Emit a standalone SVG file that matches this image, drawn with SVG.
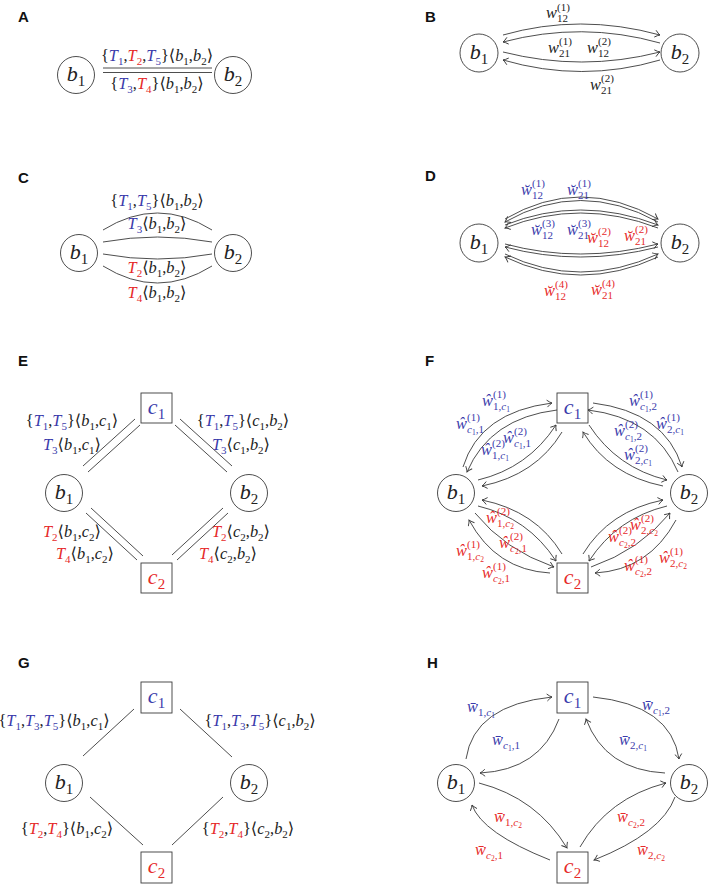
<svg xmlns="http://www.w3.org/2000/svg" width="709" height="884" viewBox="0 0 709 884">
<style>
.pl{font-family:"Liberation Sans",Arial,sans-serif;font-weight:bold;font-size:15px;fill:#111}
.m{font-family:"Liberation Serif","DejaVu Serif",serif;font-size:16.4px;fill:#222}
.it{font-style:italic}
.sc{font-size:11px}
.sb{font-size:11px;baseline-shift:-4px}
.ss{font-size:7.5px;baseline-shift:-2px}
.nd{font-size:22px}
.ns{font-size:15px;baseline-shift:-5px}
.bl{fill:#3b3bab}
.rd{fill:#e62a2a}
.ln{fill:none;stroke:#3a3a3a;stroke-width:0.9}
.ar{fill:none;stroke:#3a3a3a;stroke-width:0.9;marker-end:url(#ah)}
.cn{fill:#fff;stroke:#3a3a3a;stroke-width:0.9}
</style>
<defs>
<marker id="ah" viewBox="-6 -5 8 10" markerWidth="8" markerHeight="10" refX="0" refY="0" orient="auto" markerUnits="userSpaceOnUse"><path d="M-5,-3.5 Q-2,-0.8 0,0 Q-2,0.8 -5,3.5" fill="none" stroke="#3a3a3a" stroke-width="0.9"/></marker>
</defs>
<rect width="709" height="884" fill="#fff"/>

<g id="panel-labels">
<text class="pl" x="18" y="22">A</text>
<text class="pl" x="425" y="22">B</text>
<text class="pl" x="18" y="183">C</text>
<text class="pl" x="425" y="181">D</text>
<text class="pl" x="18" y="366">E</text>
<text class="pl" x="425" y="366">F</text>
<text class="pl" x="18" y="668">G</text>
<text class="pl" x="427" y="668">H</text>
</g>

<g id="connectors">
<!-- A -->
<path class="ln" d="M103,68 H212"/>
<path class="ln" d="M103,72.5 H212"/>
<!-- B -->
<path class="ar" d="M503,35 Q580,13 660,35"/>
<path class="ar" d="M660,43 Q582,21 503,42"/>
<path class="ar" d="M503,52 Q582,72 660,52"/>
<path class="ar" d="M660,60 Q582,83 503,60"/>
<!-- C -->
<path class="ln" d="M103,230 Q157.5,196 212,230"/>
<path class="ln" d="M103,242 Q157.5,232 212,242"/>
<path class="ln" d="M103,254 Q157.5,264 212,254"/>
<path class="ln" d="M103,266 Q157.5,300 212,266"/>
<!-- D -->
<path class="ar" d="M505,219 Q580,175 658,219"/>
<path class="ar" d="M658,222 Q580,179 505,222"/>
<path class="ar" d="M505,225 Q580,195 658,225"/>
<path class="ar" d="M658,228 Q580,198 505,228"/>
<path class="ar" d="M505,244 Q580,264 658,244"/>
<path class="ar" d="M658,247 Q580,267 505,247"/>
<path class="ar" d="M505,254 Q580,290 658,254"/>
<path class="ar" d="M658,257 Q580,293 505,257"/>
<!-- E -->
<path class="ln" d="M83,466 L135,419"/>
<path class="ln" d="M88,472 L140,425"/>
<path class="ln" d="M180,419 L232,466"/>
<path class="ln" d="M175,425 L227,472"/>
<path class="ln" d="M86,513 L137,560"/>
<path class="ln" d="M91,508 L143,556"/>
<path class="ln" d="M172,555 L223,508"/>
<path class="ln" d="M177,560 L228,513"/>
<!-- F top -->
<path class="ar" d="M463,467 Q480,412 552,403"/>
<path class="ar" d="M557,410 Q490,418 467,472"/>
<path class="ar" d="M478,480 Q528,468 556,425"/>
<path class="ar" d="M562,432 Q536,475 482,486"/>
<path class="ar" d="M593,403 Q665,412 682,467"/>
<path class="ar" d="M678,472 Q655,418 588,410"/>
<path class="ar" d="M589,425 Q617,468 667,480"/>
<path class="ar" d="M663,486 Q609,475 583,432"/>
<!-- F bottom -->
<path class="ar" d="M550,573 Q496,570 469,520"/>
<path class="ar" d="M475,513 Q505,550 554,567"/>
<path class="ar" d="M478,506 Q528,518 556,561"/>
<path class="ar" d="M562,554 Q536,511 482,500"/>
<path class="ar" d="M676,520 Q649,570 595,573"/>
<path class="ar" d="M591,567 Q640,550 670,513"/>
<path class="ar" d="M667,506 Q617,518 589,561"/>
<path class="ar" d="M583,554 Q609,511 663,500"/>
<!-- G -->
<path class="ln" d="M83,756 L134,709"/>
<path class="ln" d="M180,709 L232,757"/>
<path class="ln" d="M90,797 L143,845"/>
<path class="ln" d="M172,845 L223,797"/>
<!-- H -->
<path class="ar" d="M466,759 Q474,705 552,697"/>
<path class="ar" d="M559,719 Q540,770 480,773"/>
<path class="ar" d="M593,697 Q671,705 679,759"/>
<path class="ar" d="M665,773 Q605,770 586,719"/>
<path class="ar" d="M479,783 Q537,798 567,848"/>
<path class="ar" d="M550,860 Q482,833 472,805"/>
<path class="ar" d="M580,847 Q608,798 666,783"/>
<path class="ar" d="M675,797 Q662,833 594,860"/>
</g>

<g id="edge-labels">
<!-- A -->
<text class="m" x="157" y="61" text-anchor="middle">{<tspan class="bl"><tspan class="it">T</tspan><tspan class="sb">1</tspan></tspan>,<tspan class="rd"><tspan class="it">T</tspan><tspan class="sb">2</tspan></tspan>,<tspan class="bl"><tspan class="it">T</tspan><tspan class="sb">5</tspan></tspan>}⟨<tspan class="it">b</tspan><tspan class="sb">1</tspan>,<tspan class="it">b</tspan><tspan class="sb">2</tspan>⟩</text>
<text class="m" x="157" y="89" text-anchor="middle">{<tspan class="bl"><tspan class="it">T</tspan><tspan class="sb">3</tspan></tspan>,<tspan class="rd"><tspan class="it">T</tspan><tspan class="sb">4</tspan></tspan>}⟨<tspan class="it">b</tspan><tspan class="sb">1</tspan>,<tspan class="it">b</tspan><tspan class="sb">2</tspan>⟩</text>
<!-- B -->
<text class="m it" x="546" y="18">w</text><text class="m sc" x="557" y="11">(1)</text><text class="m sc" x="557" y="22">12</text>
<text class="m it" x="548" y="53">w</text><text class="m sc" x="559" y="45">(1)</text><text class="m sc" x="559" y="57">21</text>
<text class="m it" x="587" y="53">w</text><text class="m sc" x="598" y="45">(2)</text><text class="m sc" x="598" y="57">12</text>
<text class="m it" x="590" y="90">w</text><text class="m sc" x="601" y="82">(2)</text><text class="m sc" x="601" y="94">21</text>
<!-- C -->
<text class="m" x="157" y="206" text-anchor="middle">{<tspan class="bl"><tspan class="it">T</tspan><tspan class="sb">1</tspan></tspan>,<tspan class="bl"><tspan class="it">T</tspan><tspan class="sb">5</tspan></tspan>}⟨<tspan class="it">b</tspan><tspan class="sb">1</tspan>,<tspan class="it">b</tspan><tspan class="sb">2</tspan>⟩</text>
<text class="m" x="157" y="229" text-anchor="middle"><tspan class="bl"><tspan class="it">T</tspan><tspan class="sb">3</tspan></tspan>⟨<tspan class="it">b</tspan><tspan class="sb">1</tspan>,<tspan class="it">b</tspan><tspan class="sb">2</tspan>⟩</text>
<text class="m" x="157" y="273" text-anchor="middle"><tspan class="rd"><tspan class="it">T</tspan><tspan class="sb">2</tspan></tspan>⟨<tspan class="it">b</tspan><tspan class="sb">1</tspan>,<tspan class="it">b</tspan><tspan class="sb">2</tspan>⟩</text>
<text class="m" x="157" y="298" text-anchor="middle"><tspan class="rd"><tspan class="it">T</tspan><tspan class="sb">4</tspan></tspan>⟨<tspan class="it">b</tspan><tspan class="sb">1</tspan>,<tspan class="it">b</tspan><tspan class="sb">2</tspan>⟩</text>
<!-- D -->
<text class="m it bl" x="521" y="195">w&#x306;</text><text class="m sc bl" x="532" y="187">(1)</text><text class="m sc bl" x="532" y="199">12</text>
<text class="m it bl" x="567" y="195">w&#x306;</text><text class="m sc bl" x="578" y="187">(1)</text><text class="m sc bl" x="578" y="199">21</text>
<text class="m it bl" x="531" y="235">w&#x306;</text><text class="m sc bl" x="542" y="227">(3)</text><text class="m sc bl" x="542" y="239">12</text>
<text class="m it bl" x="567" y="235">w&#x306;</text><text class="m sc bl" x="578" y="227">(3)</text><text class="m sc bl" x="578" y="239">21</text>
<text class="m it rd" x="587" y="243">w&#x306;</text><text class="m sc rd" x="598" y="235">(2)</text><text class="m sc rd" x="598" y="247">12</text>
<text class="m it rd" x="624" y="241">w&#x306;</text><text class="m sc rd" x="635" y="233">(2)</text><text class="m sc rd" x="635" y="245">21</text>
<text class="m it rd" x="544" y="296">w&#x306;</text><text class="m sc rd" x="555" y="288">(4)</text><text class="m sc rd" x="555" y="300">12</text>
<text class="m it rd" x="591" y="295">w&#x306;</text><text class="m sc rd" x="602" y="287">(4)</text><text class="m sc rd" x="602" y="299">21</text>
<!-- E -->
<text class="m" x="72" y="426" text-anchor="middle">{<tspan class="bl"><tspan class="it">T</tspan><tspan class="sb">1</tspan></tspan>,<tspan class="bl"><tspan class="it">T</tspan><tspan class="sb">5</tspan></tspan>}⟨<tspan class="it">b</tspan><tspan class="sb">1</tspan>,<tspan class="it">c</tspan><tspan class="sb">1</tspan>⟩</text>
<text class="m" x="72" y="450" text-anchor="middle"><tspan class="bl"><tspan class="it">T</tspan><tspan class="sb">3</tspan></tspan>⟨<tspan class="it">b</tspan><tspan class="sb">1</tspan>,<tspan class="it">c</tspan><tspan class="sb">1</tspan>⟩</text>
<text class="m" x="243" y="426" text-anchor="middle">{<tspan class="bl"><tspan class="it">T</tspan><tspan class="sb">1</tspan></tspan>,<tspan class="bl"><tspan class="it">T</tspan><tspan class="sb">5</tspan></tspan>}⟨<tspan class="it">c</tspan><tspan class="sb">1</tspan>,<tspan class="it">b</tspan><tspan class="sb">2</tspan>⟩</text>
<text class="m" x="241" y="450" text-anchor="middle"><tspan class="bl"><tspan class="it">T</tspan><tspan class="sb">3</tspan></tspan>⟨<tspan class="it">c</tspan><tspan class="sb">1</tspan>,<tspan class="it">b</tspan><tspan class="sb">2</tspan>⟩</text>
<text class="m" x="72" y="537" text-anchor="middle"><tspan class="rd"><tspan class="it">T</tspan><tspan class="sb">2</tspan></tspan>⟨<tspan class="it">b</tspan><tspan class="sb">1</tspan>,<tspan class="it">c</tspan><tspan class="sb">2</tspan>⟩</text>
<text class="m" x="85" y="559" text-anchor="middle"><tspan class="rd"><tspan class="it">T</tspan><tspan class="sb">4</tspan></tspan>⟨<tspan class="it">b</tspan><tspan class="sb">1</tspan>,<tspan class="it">c</tspan><tspan class="sb">2</tspan>⟩</text>
<text class="m" x="241" y="537" text-anchor="middle"><tspan class="rd"><tspan class="it">T</tspan><tspan class="sb">2</tspan></tspan>⟨<tspan class="it">c</tspan><tspan class="sb">2</tspan>,<tspan class="it">b</tspan><tspan class="sb">2</tspan>⟩</text>
<text class="m" x="228" y="559" text-anchor="middle"><tspan class="rd"><tspan class="it">T</tspan><tspan class="sb">4</tspan></tspan>⟨<tspan class="it">c</tspan><tspan class="sb">2</tspan>,<tspan class="it">b</tspan><tspan class="sb">2</tspan>⟩</text>
<!-- F top -->
<text class="m it bl" x="482" y="406">ŵ</text><text class="m sc bl" x="493" y="398">(1)</text><text class="m sc bl" x="493" y="410">1,<tspan class="it">c</tspan><tspan class="ss">1</tspan></text>
<text class="m it bl" x="456" y="429">ŵ</text><text class="m sc bl" x="467" y="421">(1)</text><text class="m sc bl" x="467" y="433"><tspan class="it">c</tspan><tspan class="ss">1</tspan>,1</text>
<text class="m it bl" x="503" y="443">ŵ</text><text class="m sc bl" x="514" y="435">(2)</text><text class="m sc bl" x="514" y="447"><tspan class="it">c</tspan><tspan class="ss">1</tspan>,1</text>
<text class="m it bl" x="481" y="455">ŵ</text><text class="m sc bl" x="492" y="447">(2)</text><text class="m sc bl" x="492" y="459">1,<tspan class="it">c</tspan><tspan class="ss">1</tspan></text>
<text class="m it bl" x="629" y="406">ŵ</text><text class="m sc bl" x="640" y="398">(1)</text><text class="m sc bl" x="640" y="410"><tspan class="it">c</tspan><tspan class="ss">1</tspan>,2</text>
<text class="m it bl" x="656" y="429">ŵ</text><text class="m sc bl" x="667" y="421">(1)</text><text class="m sc bl" x="667" y="433">2,<tspan class="it">c</tspan><tspan class="ss">1</tspan></text>
<text class="m it bl" x="614" y="436">ŵ</text><text class="m sc bl" x="625" y="428">(2)</text><text class="m sc bl" x="625" y="440"><tspan class="it">c</tspan><tspan class="ss">1</tspan>,2</text>
<text class="m it bl" x="624" y="460">ŵ</text><text class="m sc bl" x="635" y="452">(2)</text><text class="m sc bl" x="635" y="464">2,<tspan class="it">c</tspan><tspan class="ss">1</tspan></text>
<!-- F bottom -->
<text class="m it rd" x="486" y="523">ŵ</text><text class="m sc rd" x="497" y="515">(2)</text><text class="m sc rd" x="497" y="527">1,<tspan class="it">c</tspan><tspan class="ss">2</tspan></text>
<text class="m it rd" x="499" y="548">ŵ</text><text class="m sc rd" x="510" y="540">(2)</text><text class="m sc rd" x="510" y="552"><tspan class="it">c</tspan><tspan class="ss">2</tspan>,1</text>
<text class="m it rd" x="456" y="556">ŵ</text><text class="m sc rd" x="467" y="548">(1)</text><text class="m sc rd" x="467" y="560">1,<tspan class="it">c</tspan><tspan class="ss">2</tspan></text>
<text class="m it rd" x="482" y="578">ŵ</text><text class="m sc rd" x="493" y="570">(1)</text><text class="m sc rd" x="493" y="582"><tspan class="it">c</tspan><tspan class="ss">2</tspan>,1</text>
<text class="m it rd" x="608" y="542">ŵ</text><text class="m sc rd" x="619" y="534">(2)</text><text class="m sc rd" x="619" y="546"><tspan class="it">c</tspan><tspan class="ss">2</tspan>,2</text>
<text class="m it rd" x="630" y="530">ŵ</text><text class="m sc rd" x="641" y="522">(2)</text><text class="m sc rd" x="641" y="534">2,<tspan class="it">c</tspan><tspan class="ss">2</tspan></text>
<text class="m it rd" x="624" y="571">ŵ</text><text class="m sc rd" x="635" y="563">(1)</text><text class="m sc rd" x="635" y="575"><tspan class="it">c</tspan><tspan class="ss">2</tspan>,2</text>
<text class="m it rd" x="659" y="563">ŵ</text><text class="m sc rd" x="670" y="555">(1)</text><text class="m sc rd" x="670" y="567">2,<tspan class="it">c</tspan><tspan class="ss">2</tspan></text>
<!-- G -->
<text class="m" x="54" y="726" text-anchor="middle">{<tspan class="bl"><tspan class="it">T</tspan><tspan class="sb">1</tspan></tspan>,<tspan class="bl"><tspan class="it">T</tspan><tspan class="sb">3</tspan></tspan>,<tspan class="bl"><tspan class="it">T</tspan><tspan class="sb">5</tspan></tspan>}⟨<tspan class="it">b</tspan><tspan class="sb">1</tspan>,<tspan class="it">c</tspan><tspan class="sb">1</tspan>⟩</text>
<text class="m" x="260" y="726" text-anchor="middle">{<tspan class="bl"><tspan class="it">T</tspan><tspan class="sb">1</tspan></tspan>,<tspan class="bl"><tspan class="it">T</tspan><tspan class="sb">3</tspan></tspan>,<tspan class="bl"><tspan class="it">T</tspan><tspan class="sb">5</tspan></tspan>}⟨<tspan class="it">c</tspan><tspan class="sb">1</tspan>,<tspan class="it">b</tspan><tspan class="sb">2</tspan>⟩</text>
<text class="m" x="67" y="834" text-anchor="middle">{<tspan class="rd"><tspan class="it">T</tspan><tspan class="sb">2</tspan></tspan>,<tspan class="rd"><tspan class="it">T</tspan><tspan class="sb">4</tspan></tspan>}⟨<tspan class="it">b</tspan><tspan class="sb">1</tspan>,<tspan class="it">c</tspan><tspan class="sb">2</tspan>⟩</text>
<text class="m" x="248" y="834" text-anchor="middle">{<tspan class="rd"><tspan class="it">T</tspan><tspan class="sb">2</tspan></tspan>,<tspan class="rd"><tspan class="it">T</tspan><tspan class="sb">4</tspan></tspan>}⟨<tspan class="it">c</tspan><tspan class="sb">2</tspan>,<tspan class="it">b</tspan><tspan class="sb">2</tspan>⟩</text>
<!-- H -->
<text class="m it bl" x="467" y="712">w&#x304;</text><text class="m sc bl" x="478" y="716">1,<tspan class="it">c</tspan><tspan class="ss">1</tspan></text>
<text class="m it bl" x="492" y="745">w&#x304;</text><text class="m sc bl" x="503" y="749"><tspan class="it">c</tspan><tspan class="ss">1</tspan>,1</text>
<text class="m it bl" x="642" y="710">w&#x304;</text><text class="m sc bl" x="653" y="714"><tspan class="it">c</tspan><tspan class="ss">1</tspan>,2</text>
<text class="m it bl" x="619" y="745">w&#x304;</text><text class="m sc bl" x="630" y="749">2,<tspan class="it">c</tspan><tspan class="ss">1</tspan></text>
<text class="m it rd" x="494" y="822">w&#x304;</text><text class="m sc rd" x="505" y="826">1,<tspan class="it">c</tspan><tspan class="ss">2</tspan></text>
<text class="m it rd" x="475" y="855">w&#x304;</text><text class="m sc rd" x="486" y="859"><tspan class="it">c</tspan><tspan class="ss">2</tspan>,1</text>
<text class="m it rd" x="617" y="822">w&#x304;</text><text class="m sc rd" x="628" y="826"><tspan class="it">c</tspan><tspan class="ss">2</tspan>,2</text>
<text class="m it rd" x="637" y="855">w&#x304;</text><text class="m sc rd" x="648" y="859">2,<tspan class="it">c</tspan><tspan class="ss">2</tspan></text>
</g>

<g id="A-b1"><circle class="cn" cx="76" cy="75" r="18.5"/><text class="m nd" x="76" y="81" text-anchor="middle"><tspan class="it">b</tspan><tspan class="ns">1</tspan></text></g>
<g id="A-b2"><circle class="cn" cx="233" cy="75" r="18.5"/><text class="m nd" x="233" y="81" text-anchor="middle"><tspan class="it">b</tspan><tspan class="ns">2</tspan></text></g>
<g id="B-b1"><circle class="cn" cx="479" cy="53" r="19"/><text class="m nd" x="479" y="59" text-anchor="middle"><tspan class="it">b</tspan><tspan class="ns">1</tspan></text></g>
<g id="B-b2"><circle class="cn" cx="680" cy="53" r="19"/><text class="m nd" x="680" y="59" text-anchor="middle"><tspan class="it">b</tspan><tspan class="ns">2</tspan></text></g>
<g id="C-b1"><circle class="cn" cx="79" cy="253" r="18.5"/><text class="m nd" x="79" y="259" text-anchor="middle"><tspan class="it">b</tspan><tspan class="ns">1</tspan></text></g>
<g id="C-b2"><circle class="cn" cx="233" cy="253" r="18.5"/><text class="m nd" x="233" y="259" text-anchor="middle"><tspan class="it">b</tspan><tspan class="ns">2</tspan></text></g>
<g id="D-b1"><circle class="cn" cx="479" cy="243" r="19"/><text class="m nd" x="479" y="249" text-anchor="middle"><tspan class="it">b</tspan><tspan class="ns">1</tspan></text></g>
<g id="D-b2"><circle class="cn" cx="680" cy="243" r="19"/><text class="m nd" x="680" y="249" text-anchor="middle"><tspan class="it">b</tspan><tspan class="ns">2</tspan></text></g>
<g id="E-b1"><circle class="cn" cx="64" cy="493" r="18.5"/><text class="m nd" x="64" y="499" text-anchor="middle"><tspan class="it">b</tspan><tspan class="ns">1</tspan></text></g>
<g id="E-b2"><circle class="cn" cx="249" cy="493" r="18.5"/><text class="m nd" x="249" y="499" text-anchor="middle"><tspan class="it">b</tspan><tspan class="ns">2</tspan></text></g>
<g id="E-c1"><rect class="cn" x="141" y="393" width="31" height="30"/><text class="m nd bl" x="156.5" y="414" text-anchor="middle"><tspan class="it">c</tspan><tspan class="ns">1</tspan></text></g>
<g id="E-c2"><rect class="cn" x="141" y="563" width="31" height="30"/><text class="m nd rd" x="156.5" y="584" text-anchor="middle"><tspan class="it">c</tspan><tspan class="ns">2</tspan></text></g>
<g id="F-b1"><circle class="cn" cx="456" cy="493" r="18.5"/><text class="m nd" x="456" y="499" text-anchor="middle"><tspan class="it">b</tspan><tspan class="ns">1</tspan></text></g>
<g id="F-b2"><circle class="cn" cx="689" cy="493" r="18.5"/><text class="m nd" x="689" y="499" text-anchor="middle"><tspan class="it">b</tspan><tspan class="ns">2</tspan></text></g>
<g id="F-c1"><rect class="cn" x="557" y="393" width="31" height="30"/><text class="m nd bl" x="572.5" y="414" text-anchor="middle"><tspan class="it">c</tspan><tspan class="ns">1</tspan></text></g>
<g id="F-c2"><rect class="cn" x="557" y="563" width="31" height="30"/><text class="m nd rd" x="572.5" y="584" text-anchor="middle"><tspan class="it">c</tspan><tspan class="ns">2</tspan></text></g>
<g id="G-b1"><circle class="cn" cx="64" cy="783" r="18.5"/><text class="m nd" x="64" y="789" text-anchor="middle"><tspan class="it">b</tspan><tspan class="ns">1</tspan></text></g>
<g id="G-b2"><circle class="cn" cx="249" cy="783" r="18.5"/><text class="m nd" x="249" y="789" text-anchor="middle"><tspan class="it">b</tspan><tspan class="ns">2</tspan></text></g>
<g id="G-c1"><rect class="cn" x="141" y="682" width="31" height="31"/><text class="m nd bl" x="156.5" y="703" text-anchor="middle"><tspan class="it">c</tspan><tspan class="ns">1</tspan></text></g>
<g id="G-c2"><rect class="cn" x="141" y="852" width="31" height="31"/><text class="m nd rd" x="156.5" y="873" text-anchor="middle"><tspan class="it">c</tspan><tspan class="ns">2</tspan></text></g>
<g id="H-b1"><circle class="cn" cx="456" cy="783" r="18.5"/><text class="m nd" x="456" y="789" text-anchor="middle"><tspan class="it">b</tspan><tspan class="ns">1</tspan></text></g>
<g id="H-b2"><circle class="cn" cx="689" cy="783" r="18.5"/><text class="m nd" x="689" y="789" text-anchor="middle"><tspan class="it">b</tspan><tspan class="ns">2</tspan></text></g>
<g id="H-c1"><rect class="cn" x="557" y="682" width="31" height="31"/><text class="m nd bl" x="572.5" y="703" text-anchor="middle"><tspan class="it">c</tspan><tspan class="ns">1</tspan></text></g>
<g id="H-c2"><rect class="cn" x="557" y="852" width="31" height="31"/><text class="m nd rd" x="572.5" y="873" text-anchor="middle"><tspan class="it">c</tspan><tspan class="ns">2</tspan></text></g>
</svg>
